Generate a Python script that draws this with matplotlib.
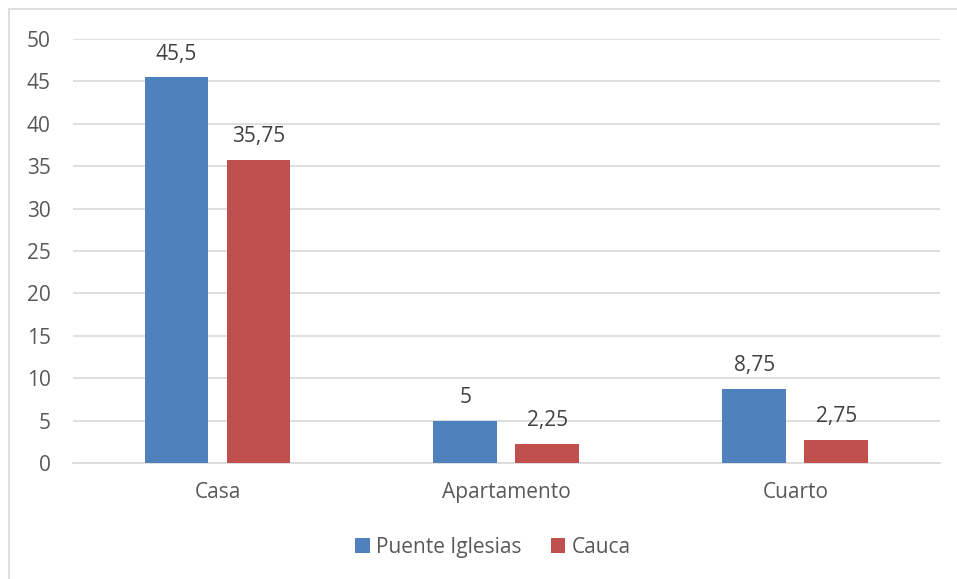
import matplotlib.pyplot as plt
import numpy as np
from matplotlib.patches import Rectangle

categories = ["Casa", "Apartamento", "Cuarto"]
puente_iglesias = [45.5, 5, 8.75]
cauca = [35.75, 2.25, 2.75]
series_names = ["Puente Iglesias", "Cauca"]
yticks = [0, 5, 10, 15, 20, 25, 30, 35, 40, 45, 50]

plt.rcParams['font.family'] = ['Open Sans', 'DejaVu Sans']
txt = '#595959'
fs = 15

fig = plt.figure(figsize=(9.57, 5.79), dpi=100)
ax = fig.add_axes([0.0763, 0.2003, 0.9057, 0.7323])

# outer chart border (only left/top visible in reference)
fig.patches.append(Rectangle((9/957, -0.1), 1.2, 1 - 9/579 + 0.1, transform=fig.transFigure,
                             fill=False, edgecolor='#D9D9D9', linewidth=1.2))

x = np.arange(len(categories))
w = 0.221
off = 0.142
b1 = ax.bar(x - off, puente_iglesias, w, color='#4F81BD', label=series_names[0], zorder=3)
b2 = ax.bar(x + off, cauca, w, color='#C0504D', label=series_names[1], zorder=3)

def fmt(v):
    s = ('%g' % v)
    return s.replace('.', ',')

for bars, vals in ((b1, puente_iglesias), (b2, cauca)):
    for r, v in zip(bars, vals):
        ax.annotate(fmt(v), (r.get_x() + r.get_width() / 2, v), xytext=(0, 9),
                    textcoords='offset points', ha='center', va='bottom',
                    fontsize=fs, color='#404040')

ax.set_xlim(-0.5, 2.5)
ax.set_ylim(0, 50)
ax.set_yticks(yticks)
ax.set_xticks(x)
ax.set_xticklabels(categories)
ax.tick_params(axis='both', length=0, labelsize=fs, colors=txt)
ax.tick_params(axis='y', pad=16)
ax.tick_params(axis='x', pad=14)
for lbl in ax.get_yticklabels():
    lbl.set_horizontalalignment('right')
ax.yaxis.grid(True, color='#D9D9D9', linewidth=1.2, zorder=0)
for s in ['top', 'right', 'left']:
    ax.spines[s].set_visible(False)
ax.spines['bottom'].set_color('#D9D9D9')
ax.spines['bottom'].set_linewidth(1.2)

fig.legend(loc='center', bbox_to_anchor=(0.515, 0.055), ncol=2, frameon=False,
           fontsize=fs, labelcolor=txt, handlelength=0.7, handleheight=0.7,
           handletextpad=0.3, columnspacing=1.4)

fig.savefig('out.png', dpi=100)
